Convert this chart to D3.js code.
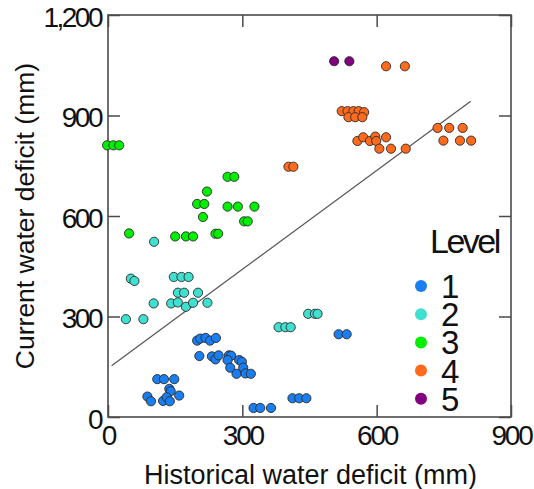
<!DOCTYPE html>
<html>
<head>
<meta charset="utf-8">
<script src="https://cdn.jsdelivr.net/npm/d3@7"></script>
<style>
  html, body { margin: 0; padding: 0; background: #fff; }
  svg { display: block; font-family: "Liberation Sans", Arial, sans-serif; }
</style>
</head>
<body>
<svg id="chart" width="534" height="489"></svg>
<script>
// Historical (x) and current (y) water deficit, mm, per level
const hist1 = [199, 206, 218, 228, 241,
  204, 232, 240, 247, 270, 275, 267, 273, 293, 299, 287, 302, 307, 319,
  110, 125, 148, 137, 140, 159, 88, 96, 123, 131, 138,
  325, 340, 364, 412, 427, 443, 515, 533];
const curr1 = [228, 234, 236, 228, 236,
  182, 181, 172, 184, 184, 183, 170, 147, 170, 165, 129, 147, 130, 129,
  113, 113, 113, 84, 77, 64, 61, 47, 48, 59, 47,
  27, 27, 27, 56, 56, 56, 247, 247];

const hist2 = [103, 51, 59, 147, 164, 180, 156, 170, 201,
  102, 141, 156, 174, 190, 222, 40, 79, 381, 396, 408, 447, 462, 468];
const curr2 = [523, 413, 406, 418, 418, 418, 371, 371, 371,
  339, 339, 342, 329, 341, 341, 292, 292, 268, 268, 268, 308, 308, 308];

const hist3 = [-2, 12, 25, 267, 282, 221, 199, 215, 267, 290, 327,
  212, 304, 312, 47, 150, 174, 190, 240, 246];
const curr3 = [811, 811, 811, 717, 717, 673, 636, 636, 628, 628, 628,
  597, 584, 584, 548, 539, 539, 539, 547, 547];

const hist4 = [403, 414, 621, 663,
  522, 535, 548, 560, 572, 537, 552, 568,
  557, 570, 585, 597, 599, 621, 606, 632, 665,
  736, 762, 792, 749, 786, 811];
const curr4 = [747, 747, 1047, 1047,
  913, 913, 913, 913, 910, 895, 895, 895,
  824, 835, 824, 837, 824, 835, 801, 801, 801,
  863, 863, 863, 825, 825, 825];

const hist5 = [505, 539];
const curr5 = [1062, 1062];

const levels = ["1", "2", "3", "4", "5"];
const levelColors = ["#1a7ef0", "#40e0d0", "#00ee00", "#ff6a1c", "#800080"];

// Fitted line: current = intercept + slope * historical
const trendIntercept = 145;
const trendSlope = 0.985;
const trendRange = [8, 810];

const xTicks = [0, 300, 600, 900];
const yTicks = [0, 300, 600, 900, 1200];

const svg = d3.select("#chart");
const plot = { left: 108, right: 511, top: 15, bottom: 417 };

const x = d3.scaleLinear().domain([0, 900]).range([plot.left, plot.right]);
const y = d3.scaleLinear().domain([0, 1200]).range([plot.bottom, plot.top]);

const tickLen = 12;
const frameColor = "#4a4a4a";

// Axes with inward ticks on all four sides
const gLeft = svg.append("g").attr("transform", `translate(${plot.left},0)`)
  .call(d3.axisLeft(y).tickValues(yTicks).tickSize(-tickLen).tickSizeOuter(0)
    .tickPadding(7).tickFormat(d3.format(",")));
const gBottom = svg.append("g").attr("transform", `translate(0,${plot.bottom})`)
  .call(d3.axisBottom(x).tickValues(xTicks).tickSize(-tickLen).tickSizeOuter(0)
    .tickPadding(8));
const gTop = svg.append("g").attr("transform", `translate(0,${plot.top})`)
  .call(d3.axisTop(x).tickValues(xTicks).tickSize(-tickLen).tickSizeOuter(0).tickFormat(""));
const gRight = svg.append("g").attr("transform", `translate(${plot.right},0)`)
  .call(d3.axisRight(y).tickValues(yTicks).tickSize(-tickLen).tickSizeOuter(0).tickFormat(""));

[gLeft, gBottom, gTop, gRight].forEach(g => {
  g.select(".domain").remove();
  g.selectAll(".tick line").attr("stroke", frameColor).attr("stroke-width", 1.5);
});

gLeft.selectAll("text")
  .attr("font-size", 28).attr("fill", "#111").attr("dy", "0.4em")
  .attr("letter-spacing", "-2.5px").attr("font-family", "Liberation Sans, Arial, sans-serif");
gBottom.selectAll("text")
  .attr("font-size", 28).attr("fill", "#111").attr("dy", "0.71em")
  .attr("letter-spacing", "-2.2px").attr("font-family", "Liberation Sans, Arial, sans-serif");

// Frame
svg.append("rect")
  .attr("x", plot.left).attr("y", plot.top)
  .attr("width", plot.right - plot.left).attr("height", plot.bottom - plot.top)
  .attr("fill", "none").attr("stroke", frameColor).attr("stroke-width", 1.6);

// Fitted line
svg.append("line")
  .attr("x1", x(trendRange[0])).attr("y1", y(trendIntercept + trendSlope * trendRange[0]))
  .attr("x2", x(trendRange[1])).attr("y2", y(trendIntercept + trendSlope * trendRange[1]))
  .attr("stroke", "#555").attr("stroke-width", 1.2);

// Points
const series = [[hist1, curr1], [hist2, curr2], [hist3, curr3], [hist4, curr4], [hist5, curr5]];
series.forEach(([hx, cy], i) => {
  const pts = hx.map((v, j) => ({ h: v, c: cy[j] }));
  svg.append("g").selectAll("circle").data(pts).join("circle")
    .attr("cx", d => x(d.h)).attr("cy", d => y(d.c)).attr("r", 4.6)
    .attr("fill", levelColors[i]).attr("stroke", "#2a2a2a").attr("stroke-width", 0.9);
});

// Legend: title, colour keys, and the level numbers set as one tightly stacked text block
const legend = svg.append("g");
legend.append("text").attr("x", 430).attr("y", 253)
  .attr("font-size", 34).attr("letter-spacing", "-2.5px").attr("fill", "#111").text("Level");
const keyY = i => 286 + i * 28.2;
legend.selectAll("circle").data(levels).join("circle")
  .attr("cx", 421).attr("cy", (d, i) => keyY(i)).attr("r", 6)
  .attr("fill", (d, i) => levelColors[i]);
legend.append("text").attr("font-size", 33).attr("fill", "#111")
  .selectAll("tspan").data(levels).join("tspan")
  .attr("x", 441).attr("y", (d, i) => keyY(i) + 12).text(d => d);

// Axis titles
svg.append("text")
  .attr("x", (plot.left + plot.right) / 2 + 1).attr("y", 484)
  .attr("text-anchor", "middle").attr("font-size", 27).attr("fill", "#111")
  .text("Historical water deficit (mm)");
svg.append("text")
  .attr("transform", "translate(34,216) rotate(-90)")
  .attr("text-anchor", "middle").attr("font-size", 26.5).attr("fill", "#111")
  .text("Current water deficit (mm)");
</script>
</body>
</html>
